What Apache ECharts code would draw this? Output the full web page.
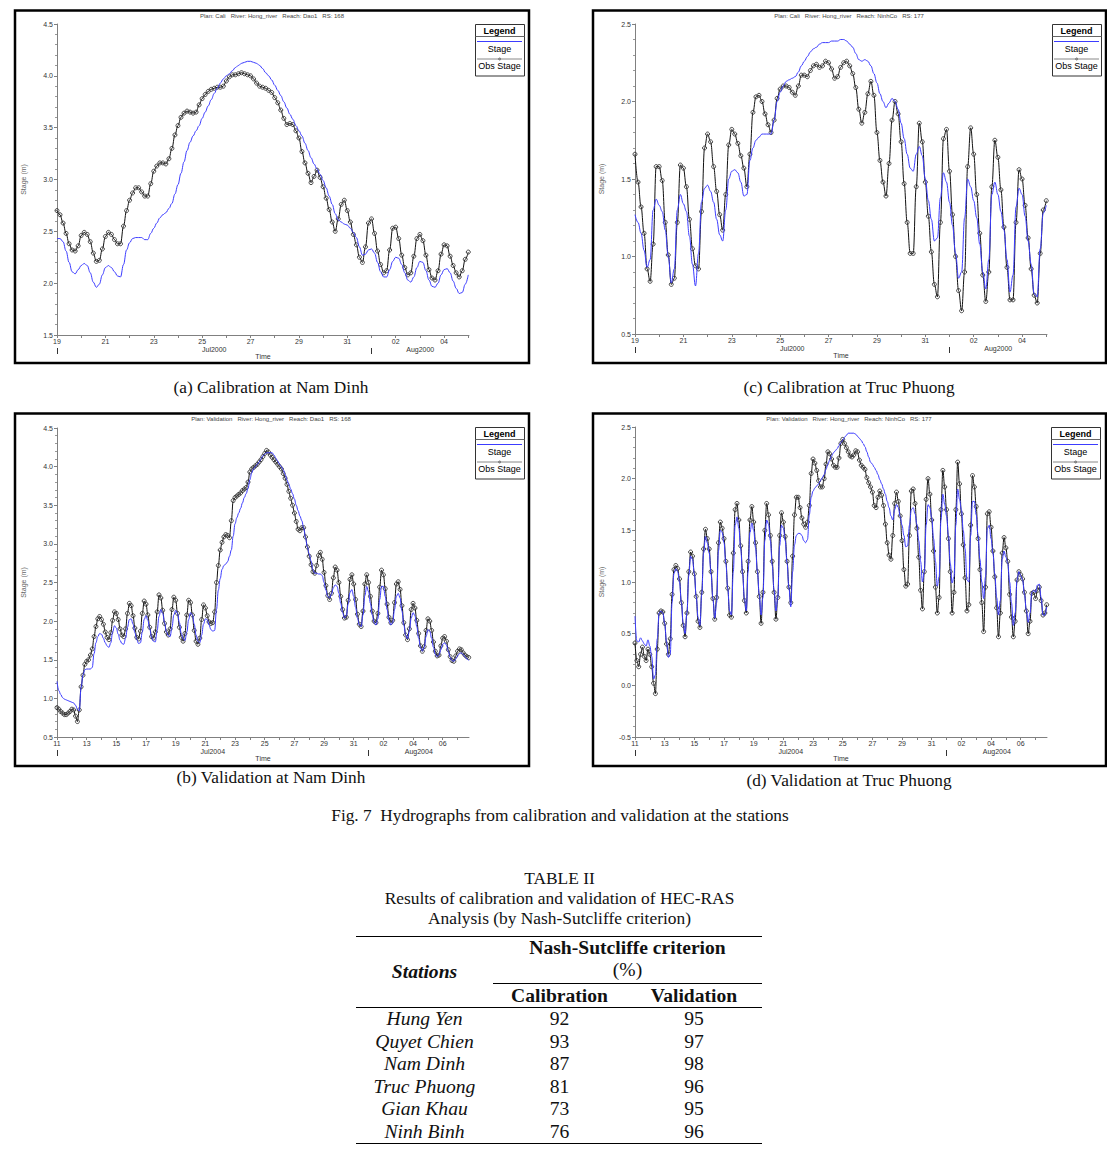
<!DOCTYPE html>
<html><head><meta charset="utf-8">
<script src="https://cdn.jsdelivr.net/npm/echarts@6/dist/echarts.min.js"></script>
<style>
body{margin:0;background:#fff;width:1107px;height:1163px;position:relative;overflow:hidden;font-family:'Liberation Serif','Times New Roman',serif;color:#111;}
#chart{position:absolute;left:0;top:0;width:1107px;height:800px;}
.cap{position:absolute;font-size:17.3px;white-space:nowrap;transform:translate(-50%,-50%);}
#tcap{position:absolute;left:0;width:1119px;top:868px;text-align:center;font-size:17.4px;line-height:20px;}
#tbl{position:absolute;left:356px;top:936px;width:406px;border-collapse:collapse;table-layout:fixed;font-size:19.6px;}
#tbl th,#tbl td{padding:0;text-align:center;}
#tbl .h1 th{height:46px;}
#tbl .h2 th{height:23px;line-height:23px;border-bottom:1.5px solid #000;}
#tbl td{height:22.5px;line-height:22px;}
#tbl td.st{font-style:italic;}
#tbl tr.last td{border-bottom:1.5px solid #000;}
</style></head>
<body>
<div id="chart"></div>
<div class="cap" style="left:271px;top:388px">(a) Calibration at Nam Dinh</div>
<div class="cap" style="left:849px;top:388px">(c) Calibration at Truc Phuong</div>
<div class="cap" style="left:271px;top:778px">(b) Validation at Nam Dinh</div>
<div class="cap" style="left:849px;top:781px">(d) Validation at Truc Phuong</div>
<div class="cap" style="left:560px;top:816px">Fig. 7&nbsp; Hydrographs from calibration and validation at the stations</div>
<div id="tcap">TABLE II<br>Results of calibration and validation of HEC-RAS<br>Analysis (by Nash-Sutcliffe criterion)</div>
<table id="tbl">
<colgroup><col style="width:137px"><col style="width:133px"><col style="width:136px"></colgroup>
<tr class="h1" style="border-top:1.5px solid #000">
<th rowspan="2" style="font-style:italic;vertical-align:middle;border-bottom:1.5px solid #000">Stations</th>
<th colspan="2" style="vertical-align:top;line-height:22px;border-bottom:1px solid #000">Nash-Sutcliffe criterion<br><span style="font-weight:normal">(%)</span></th>
</tr>
<tr class="h2"><th>Calibration</th><th>Validation</th></tr>
<tbody id="tbody"></tbody>
</table>
<script>
// ---------- DATA ----------
const STEP = 0.125; // 3-hourly values (days)
const ticksAC = ['19','21','23','25','27','29','31','02','04'];
const ticksBD = ['11','13','15','17','19','21','23','25','27','29','31','02','04','06'];
const monthsAC = ['Jul2000','Aug2000'];
const monthsBD = ['Jul2004','Aug2004'];
const titleA = 'Plan: Cali\u00a0\u00a0 River: Hong_river\u00a0\u00a0 Reach: Dao1\u00a0\u00a0 RS: 168';
const titleC = 'Plan: Cali\u00a0\u00a0 River: Hong_river\u00a0\u00a0 Reach: NinhCo\u00a0\u00a0 RS: 177';
const titleB = 'Plan: Validation\u00a0\u00a0 River: Hong_river\u00a0\u00a0 Reach: Dao1\u00a0\u00a0 RS: 168';
const titleD = 'Plan: Validation\u00a0\u00a0 River: Hong_river\u00a0\u00a0 Reach: NinhCo\u00a0\u00a0 RS: 177';

const obsA = [2.70,2.66,2.58,2.48,2.38,2.32,2.31,2.36, 2.46,2.49,2.47,2.40,2.29,2.21,2.22,2.33,
2.45,2.49,2.47,2.42,2.38,2.38,2.55,2.70, 2.80,2.87,2.92,2.92,2.88,2.84,2.84,2.96,
3.08,3.13,3.16,3.16,3.15,3.20,3.30,3.43, 3.52,3.60,3.64,3.66,3.65,3.64,3.65,3.72,
3.78,3.82,3.85,3.87,3.88,3.89,3.89,3.90, 3.95,3.99,4.01,4.01,4.02,4.03,4.02,4.01,
4.00,3.97,3.93,3.90,3.89,3.88,3.86,3.84, 3.79,3.74,3.67,3.59,3.53,3.54,3.53,3.47,
3.40,3.27,3.16,3.06,2.97,3.03,3.09,3.02, 2.93,2.82,2.71,2.59,2.50,2.62,2.76,2.80,
2.70,2.59,2.47,2.37,2.25,2.20,2.35,2.58, 2.62,2.48,2.31,2.18,2.10,2.12,2.32,2.53,
2.54,2.43,2.27,2.15,2.08,2.10,2.26,2.43, 2.47,2.41,2.27,2.13,2.05,2.03,2.12,2.28,
2.37,2.36,2.26,2.17,2.10,2.06,2.12,2.23, 2.30];
const stageA = [2.43,2.43,2.40,2.31,2.20,2.11,2.09,2.13, 2.17,2.19,2.17,2.10,2.01,1.96,1.99,2.08,
2.15,2.17,2.15,2.11,2.07,2.06,2.18,2.32, 2.39,2.43,2.44,2.44,2.44,2.42,2.42,2.48,
2.53,2.58,2.63,2.66,2.68,2.72,2.77,2.86, 2.95,3.06,3.17,3.28,3.36,3.42,3.47,3.52,
3.59,3.65,3.71,3.77,3.83,3.88,3.93,3.97, 4.00,4.02,4.05,4.08,4.10,4.12,4.13,4.14,
4.14,4.13,4.12,4.10,4.07,4.03,4.00,3.96, 3.91,3.86,3.81,3.75,3.69,3.63,3.58,3.52,
3.47,3.42,3.35,3.28,3.21,3.15,3.10,3.05, 2.99,2.92,2.84,2.76,2.67,2.61,2.59,2.57,
2.56,2.53,2.49,2.44,2.35,2.27,2.28,2.32, 2.33,2.29,2.20,2.11,2.06,2.06,2.13,2.21,
2.25,2.24,2.18,2.10,2.03,2.01,2.06,2.15, 2.21,2.20,2.12,2.03,1.97,1.96,2.00,2.08,
2.13,2.14,2.10,2.02,1.95,1.90,1.91,1.99, 2.08];

const obsC = [1.66,1.48,1.32,1.15,0.92,0.84,1.08,1.58, 1.58,1.49,1.22,1.01,0.82,0.86,1.22,1.59,
1.57,1.45,1.24,1.05,0.94,0.92,1.29,1.70, 1.79,1.74,1.58,1.42,1.27,1.17,1.40,1.72,
1.82,1.79,1.73,1.65,1.57,1.45,1.66,1.93, 2.03,2.04,2.00,1.92,1.85,1.80,1.88,2.02,
2.08,2.10,2.10,2.09,2.06,2.04,2.10,2.17, 2.17,2.16,2.20,2.23,2.24,2.22,2.23,2.26,
2.25,2.21,2.15,2.16,2.22,2.25,2.26,2.23, 2.18,2.09,1.95,1.86,1.93,2.05,2.13,2.04,
1.80,1.62,1.48,1.39,1.60,1.88,2.00,1.92, 1.74,1.47,1.22,1.02,1.02,1.45,1.86,1.74,
1.48,1.26,1.03,0.82,0.74,1.22,1.76,1.82, 1.55,1.27,1.00,0.78,0.65,0.90,1.58,1.83,
1.66,1.40,1.15,0.88,0.71,0.90,1.45,1.75, 1.64,1.43,1.19,0.93,0.72,0.72,1.22,1.56,
1.50,1.33,1.12,0.92,0.75,0.70,1.02,1.30, 1.36];
const stageC = [1.27,1.22,1.15,1.04,0.93,0.98,1.30,1.37, 1.33,1.29,1.17,1.00,0.83,0.92,1.30,1.40,
1.34,1.29,1.13,0.95,0.81,1.02,1.35,1.44, 1.46,1.42,1.35,1.24,1.14,1.10,1.30,1.50,
1.55,1.56,1.54,1.48,1.39,1.40,1.62,1.70, 1.75,1.77,1.79,1.79,1.79,1.79,1.88,2.00,
2.06,2.10,2.13,2.14,2.15,2.16,2.19,2.23, 2.26,2.29,2.32,2.34,2.35,2.37,2.38,2.38,
2.38,2.39,2.39,2.39,2.40,2.40,2.39,2.37, 2.35,2.31,2.27,2.26,2.27,2.26,2.23,2.18,
2.12,2.05,2.00,1.96,1.99,2.02,2.00,1.95, 1.86,1.76,1.66,1.57,1.55,1.66,1.71,1.65,
1.50,1.36,1.24,1.10,1.12,1.38,1.54,1.48, 1.35,1.20,1.02,0.86,0.90,1.25,1.50,1.45,
1.36,1.25,1.08,0.90,0.79,0.98,1.40,1.48, 1.40,1.29,1.17,0.98,0.77,0.88,1.32,1.44,
1.40,1.26,1.10,0.95,0.76,0.74,1.05,1.28, 1.33];

const obsB = [0.88,0.86,0.83,0.81,0.79,0.79,0.81,0.83, 0.86,0.85,0.77,0.70,0.85,1.15,1.30,1.44,
1.48,1.50,1.56,1.64,1.80,1.93,2.03,2.06, 2.02,1.96,1.86,1.79,1.76,1.85,2.01,2.12,
2.10,2.02,1.90,1.82,1.80,1.90,2.10,2.23, 2.20,2.07,1.91,1.79,1.77,1.87,2.10,2.26,
2.22,2.08,1.92,1.80,1.78,1.86,2.12,2.34, 2.30,2.14,1.97,1.86,1.82,1.90,2.15,2.31,
2.27,2.10,1.92,1.79,1.74,1.84,2.08,2.27, 2.24,2.08,1.88,1.74,1.70,1.78,2.02,2.21,
2.17,2.07,1.99,1.97,1.98,2.12,2.50,2.72, 2.92,3.02,3.09,3.12,3.11,3.08,3.30,3.56,
3.60,3.62,3.64,3.66,3.69,3.71,3.73,3.80, 3.93,3.97,3.99,4.01,4.03,4.06,4.09,4.13,
4.17,4.21,4.19,4.15,4.12,4.09,4.06,4.03, 4.00,3.97,3.91,3.85,3.77,3.68,3.59,3.50,
3.40,3.29,3.19,3.17,3.21,3.21,3.09,2.96, 2.84,2.73,2.64,2.62,2.72,2.85,2.89,2.80,
2.63,2.46,2.33,2.28,2.36,2.56,2.70,2.66, 2.50,2.32,2.15,2.04,2.05,2.27,2.54,2.60,
2.48,2.28,2.09,1.96,1.93,2.13,2.48,2.60, 2.50,2.32,2.13,2.00,1.98,2.10,2.44,2.66,
2.60,2.42,2.22,2.05,1.98,2.01,2.24,2.48, 2.51,2.41,2.20,1.98,1.82,1.76,1.90,2.15,
2.23,2.17,2.01,1.84,1.68,1.61,1.67,1.88, 2.03,2.00,1.88,1.73,1.61,1.55,1.56,1.68,
1.78,1.80,1.74,1.63,1.54,1.49,1.48,1.55, 1.61,1.64,1.63,1.59,1.56,1.54,1.53];
const stageB = [1.22,1.10,1.05,1.01,0.99,0.98,0.97,0.96, 0.95,0.94,0.91,0.86,0.84,1.14,1.30,1.37,
1.38,1.38,1.38,1.40,1.58,1.72,1.80,1.84, 1.83,1.78,1.72,1.68,1.66,1.72,1.86,1.94,
1.91,1.83,1.75,1.71,1.70,1.78,1.92,2.02, 2.03,1.96,1.85,1.76,1.71,1.72,1.86,2.02,
2.07,2.01,1.90,1.79,1.74,1.73,1.88,2.06, 2.15,2.10,1.98,1.86,1.81,1.80,1.92,2.08,
2.14,2.10,1.98,1.84,1.77,1.75,1.86,2.02, 2.11,2.08,1.96,1.82,1.74,1.72,1.82,1.96,
2.03,2.02,1.95,1.89,1.87,1.88,2.15,2.40, 2.55,2.67,2.72,2.74,2.77,2.84,2.92,3.10,
3.26,3.34,3.40,3.46,3.53,3.60,3.65,3.72, 3.83,3.92,3.97,4.00,4.03,4.06,4.10,4.14,
4.16,4.18,4.18,4.18,4.18,4.15,4.11,4.07, 4.03,4.00,3.96,3.90,3.83,3.77,3.71,3.65,
3.58,3.50,3.43,3.36,3.30,3.21,3.08,2.96, 2.87,2.78,2.66,2.62,2.62,2.61,2.61,2.59,
2.50,2.40,2.32,2.30,2.35,2.43,2.47,2.45, 2.36,2.23,2.11,2.04,2.07,2.22,2.37,2.41,
2.32,2.18,2.04,1.95,1.93,2.08,2.33,2.45, 2.38,2.23,2.08,1.98,1.95,2.03,2.28,2.45,
2.45,2.32,2.15,2.01,1.95,1.98,2.15,2.32, 2.36,2.30,2.13,1.95,1.82,1.77,1.87,2.04,
2.11,2.07,1.93,1.78,1.66,1.61,1.66,1.80, 1.89,1.87,1.78,1.66,1.57,1.54,1.56,1.63,
1.70,1.72,1.69,1.61,1.53,1.49,1.48,1.51, 1.55,1.58,1.59,1.57,1.54,1.51,1.49];

const obsD = [0.41,0.24,0.18,0.30,0.37,0.28,0.24,0.35, 0.30,0.18,0.02,-0.08,0.35,0.70,0.72,0.71,
0.60,0.40,0.30,0.45,0.88,1.12,1.16,1.13, 1.03,0.80,0.58,0.47,0.70,1.10,1.29,1.25,
1.08,0.86,0.62,0.56,0.90,1.32,1.51,1.42, 1.32,1.10,0.84,0.64,0.85,1.38,1.58,1.52,
1.42,1.20,0.94,0.68,0.66,1.28,1.70,1.76, 1.60,1.35,1.10,0.82,0.70,1.20,1.60,1.73,
1.58,1.38,1.10,0.86,0.60,0.90,1.50,1.76, 1.65,1.45,1.20,0.90,0.64,0.85,1.45,1.67,
1.58,1.44,1.20,0.95,0.80,1.25,1.65,1.82, 1.82,1.72,1.62,1.56,1.53,1.58,1.74,2.05,
2.19,2.15,2.08,1.98,1.92,1.92,2.00,2.14, 2.26,2.24,2.19,2.13,2.11,2.11,2.20,2.34,
2.38,2.34,2.30,2.26,2.22,2.21,2.23,2.27, 2.26,2.18,2.13,2.11,2.09,2.01,1.96,1.92,
1.87,1.74,1.72,1.82,1.88,1.84,1.74,1.56, 1.38,1.26,1.22,1.45,1.76,1.87,1.78,1.64,
1.40,1.12,0.96,0.98,1.45,1.88,1.90,1.76, 1.52,1.24,0.92,0.74,1.10,1.80,2.00,1.85,
1.60,1.30,0.95,0.70,0.85,1.70,2.08,1.92, 1.70,1.42,1.10,0.70,0.90,1.70,2.16,1.95,
1.66,1.36,1.04,0.72,0.78,1.55,2.03,1.92, 1.73,1.42,1.12,0.80,0.52,0.95,1.66,1.68,
1.53,1.30,1.05,0.75,0.47,0.70,1.28,1.43, 1.33,1.20,0.88,0.66,0.47,0.62,1.02,1.10,
1.07,1.03,0.90,0.72,0.50,0.62,0.89,0.90, 0.84,0.92,0.95,0.82,0.68,0.70,0.78];
const stageD = [0.67,0.43,0.42,0.46,0.43,0.40,0.38,0.44, 0.38,0.28,0.06,0.10,0.45,0.70,0.72,0.70,
0.60,0.42,0.27,0.30,0.80,1.08,1.13,1.10, 1.00,0.80,0.60,0.50,0.70,1.06,1.25,1.22,
1.08,0.86,0.66,0.58,0.88,1.28,1.44,1.38, 1.28,1.08,0.84,0.65,0.80,1.30,1.50,1.48,
1.38,1.18,0.94,0.72,0.68,1.10,1.55,1.63, 1.52,1.32,1.08,0.84,0.72,1.10,1.48,1.57,
1.50,1.33,1.10,0.88,0.68,0.85,1.40,1.60, 1.56,1.40,1.16,0.92,0.72,0.85,1.35,1.55,
1.52,1.40,1.18,0.94,0.76,1.10,1.36,1.45, 1.47,1.47,1.45,1.40,1.38,1.41,1.65,1.82,
1.88,1.91,1.93,1.95,1.98,2.01,2.04,2.09, 2.14,2.18,2.22,2.25,2.27,2.29,2.32,2.35,
2.37,2.40,2.42,2.44,2.44,2.44,2.44,2.43, 2.41,2.39,2.37,2.34,2.31,2.26,2.21,2.16,
2.14,2.11,2.08,2.04,1.99,1.95,1.90,1.85, 1.78,1.72,1.64,1.60,1.70,1.75,1.72,1.63,
1.55,1.45,1.34,1.35,1.55,1.70,1.72,1.66, 1.56,1.40,1.20,1.00,1.10,1.55,1.75,1.72,
1.62,1.42,1.20,0.96,1.05,1.60,1.85,1.75, 1.64,1.45,1.18,0.99,1.05,1.55,1.90,1.80,
1.70,1.50,1.32,1.02,1.00,1.45,1.78,1.78, 1.65,1.45,1.22,1.00,0.84,1.05,1.52,1.55,
1.42,1.28,1.08,0.85,0.68,0.82,1.22,1.30, 1.24,1.18,1.00,0.80,0.58,0.70,1.02,1.10,
1.06,1.02,0.88,0.73,0.61,0.70,0.90,0.92, 0.90,0.97,0.98,0.85,0.68,0.68,0.76];

const stations = ['Hung Yen','Quyet Chien','Nam Dinh','Truc Phuong','Gian Khau','Ninh Binh'];
const nseCalibration = [92,93,87,81,73,76];
const nseValidation = [95,97,98,96,95,96];

// ---------- TABLE ----------
const tb = document.getElementById('tbody');
stations.forEach((s,i)=>{
  const tr = document.createElement('tr');
  if (i === stations.length-1) tr.className = 'last';
  tr.innerHTML = '<td class="st">'+s+'</td><td>'+nseCalibration[i]+'</td><td>'+nseValidation[i]+'</td>';
  tb.appendChild(tr);
});

// ---------- LAYOUT ----------
const panels = [
  {title:titleA, obs:obsA, stage:stageA, ticks:ticksAC, months:monthsAC, split:13, xmax:17.03, ymin:1.5, ymax:4.5,
   grid:{left:57,top:24,width:412,height:311}, frame:[15,10.5,514,352.5], tx:272, ty:13, lg:[475,24]},
  {title:titleC, obs:obsC, stage:stageC, ticks:ticksAC, months:monthsAC, split:13, xmax:17.03, ymin:0.5, ymax:2.5,
   grid:{left:635,top:24,width:412,height:310}, frame:[593,10.5,513,352.5], tx:849, ty:13, lg:[1052,24]},
  {title:titleB, obs:obsB, stage:stageB, ticks:ticksBD, months:monthsBD, split:21, xmax:27.77, ymin:0.5, ymax:4.5,
   grid:{left:57,top:428,width:412,height:309}, frame:[15,413.5,514,352.5], tx:271, ty:416, lg:[475,427]},
  {title:titleD, obs:obsD, stage:stageD, ticks:ticksBD, months:monthsBD, split:21, xmax:27.77, ymin:-0.5, ymax:2.5,
   grid:{left:635,top:427,width:412,height:310}, frame:[593,413.5,513,352.5], tx:849, ty:416, lg:[1051,427]}
];
const SANS = 'Liberation Sans, Arial, sans-serif';
const pts = arr => arr.map((v,i)=>[i*STEP, v]);
const range = n => Array.from({length:n}, (_,i)=>i);

const option = {animation:false, title:[], grid:[], xAxis:[], yAxis:[], series:[], legend:[], graphic:[]};
panels.forEach((p,i)=>{
  const nd = Math.floor(p.xmax);
  option.title.push({text:p.title, left:p.tx, top:p.ty, textAlign:'center', padding:0,
    textStyle:{fontSize:6, fontWeight:'normal', color:'#444', fontFamily:SANS}});
  option.grid.push(Object.assign({containLabel:false}, p.grid));
  option.xAxis.push({type:'value', gridIndex:i, min:0, max:p.xmax, interval:1,
    name:'Time', nameLocation:'middle', nameGap:18, nameTextStyle:{fontSize:7, color:'#333', fontFamily:SANS},
    axisLine:{onZero:false, lineStyle:{color:'#808080'}}, splitLine:{show:false},
    axisTick:{length:3, customValues:range(nd+1), lineStyle:{color:'#808080'}},
    axisLabel:{customValues:range(nd+1).filter(v=>v%2===0), margin:3, fontSize:7, color:'#333', fontFamily:SANS,
      formatter:v=>p.ticks[Math.round(v)/2] || ''}});
  const mids = [p.split/2, (p.split+p.xmax)/2];
  option.xAxis.push({type:'value', gridIndex:i, min:0, max:p.xmax, position:'bottom', offset:13,
    axisLine:{show:false, onZero:false}, splitLine:{show:false},
    axisTick:{show:true, length:6, customValues:[0,p.split], lineStyle:{color:'#333'}},
    axisLabel:{customValues:mids, margin:-2.5, fontSize:7, color:'#333', fontFamily:SANS,
      formatter:v=> v < p.split ? p.months[0] : p.months[1]}});
  option.yAxis.push({type:'value', gridIndex:i, min:p.ymin, max:p.ymax, interval:0.5,
    name:'Stage (m)', nameLocation:'middle', nameGap:30, nameTextStyle:{fontSize:7, color:'#666', fontFamily:SANS},
    axisLine:{show:true, onZero:false, lineStyle:{color:'#808080'}}, splitLine:{show:false},
    axisTick:{show:true, length:3, lineStyle:{color:'#808080'}},
    minorTick:{show:true, splitNumber:5, length:2, lineStyle:{color:'#999'}},
    axisLabel:{margin:4, fontSize:7, color:'#333', fontFamily:SANS, formatter:v=>v.toFixed(1)}});
  option.series.push({name:'Obs Stage', type:'line', xAxisIndex:2*i, yAxisIndex:i, data:pts(p.obs),
    smooth:0.4, smoothMonotone:'x', symbol:'circle', symbolSize:4, showSymbol:true,
    lineStyle:{color:'#111', width:1}, itemStyle:{color:'rgba(255,255,255,0)', borderColor:'#333', borderWidth:0.9}, z:2});
  option.series.push({name:'Stage', type:'line', xAxisIndex:2*i, yAxisIndex:i, data:pts(p.stage),
    smooth:0.4, smoothMonotone:'x', showSymbol:false, symbol:'none',
    lineStyle:{color:'#3c3cff', width:1}, itemStyle:{color:'#3c3cff'}, z:3});
  // legend texts
  const cx = p.lg[0] + 24.5;
  option.legend.push({data:['Stage'], icon:'none', itemWidth:0, itemHeight:10, padding:0, selectedMode:false,
    left:cx - 11.8 - 5, top:p.lg[1] + 20, textStyle:{fontSize:9, color:'#000', fontFamily:SANS}});
  option.legend.push({data:['Obs Stage'], icon:'none', itemWidth:0, itemHeight:10, padding:0, selectedMode:false,
    left:cx - 21.3 - 5, top:p.lg[1] + 37, textStyle:{fontSize:9, color:'#000', fontFamily:SANS}});
  // frame + legend box
  const [fx,fy,fw,fh] = p.frame;
  const [lx,ly] = p.lg;
  option.graphic.push(
    {type:'rect', shape:{x:fx,y:fy,width:fw,height:fh}, style:{fill:'none', stroke:'#000', lineWidth:2.5}, z:10},
    {type:'rect', shape:{x:lx+0.5,y:ly+0.5,width:49,height:51.5}, style:{fill:'#fff', stroke:'#333', lineWidth:1}, z:1},
    {type:'text', x:cx, y:ly+6.5, style:{text:'Legend', font:'bold 9px '+SANS, fill:'#000', align:'center', verticalAlign:'middle'}, z:5},
    {type:'line', shape:{x1:lx+0.5,y1:ly+12.5,x2:lx+49.5,y2:ly+12.5}, style:{stroke:'#666', lineWidth:1}, z:5},
    {type:'line', shape:{x1:lx+2,y1:ly+17.5,x2:lx+47,y2:ly+17.5}, style:{stroke:'#3c3cff', lineWidth:1}, z:5},
    {type:'line', shape:{x1:lx+2,y1:ly+35,x2:lx+47,y2:ly+35}, style:{stroke:'#888', lineWidth:1}, z:5},
    {type:'circle', shape:{cx:cx, cy:ly+35, r:1}, style:{fill:'none', stroke:'#555', lineWidth:0.7}, z:5}
  );
});

const chart = echarts.init(document.getElementById('chart'), null, {renderer:'svg'});
chart.setOption(option);
</script>
</body></html>
